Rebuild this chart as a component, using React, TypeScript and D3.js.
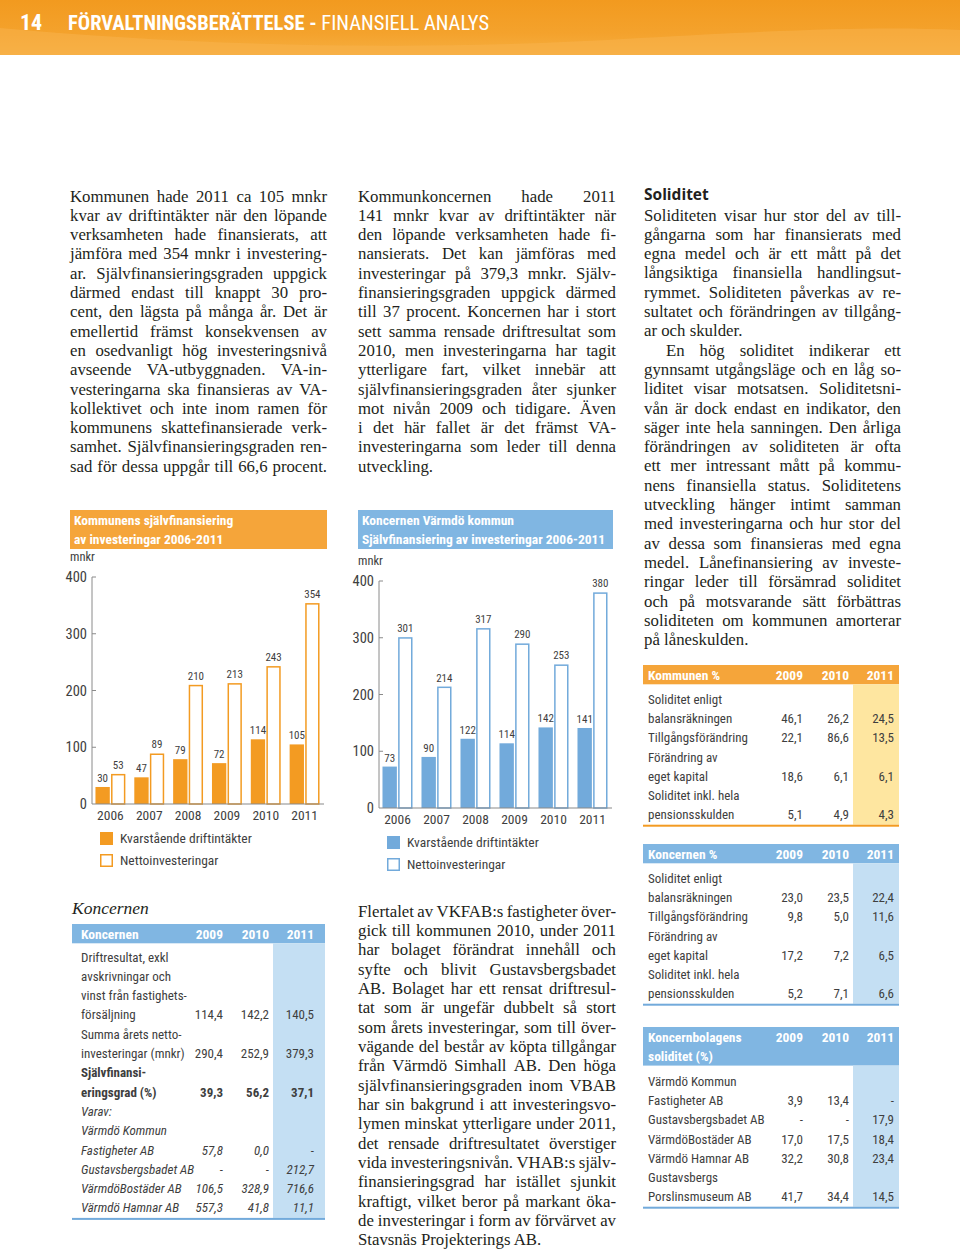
import React from 'react';
import * as d3 from 'd3';

// ---------- data ----------
const years = ['2006', '2007', '2008', '2009', '2010', '2011'];
const kommunDrift = [30, 47, 79, 72, 114, 105];
const kommunNetto = [53, 89, 210, 213, 243, 354];
const koncernDrift = [73, 90, 122, 114, 142, 141];
const koncernNetto = [301, 214, 317, 290, 253, 380];
const yTicks = [0, 100, 200, 300, 400];
const legendLabels = ['Kvarstående driftintäkter', 'Nettoinvesteringar'];
const tableYears = ['2009', '2010', '2011'];

const kommunenRows: [string, string[] | null][] = [
  ['Soliditet enligt', null],
  ['balansräkningen', ['46,1', '26,2', '24,5']],
  ['Tillgångsförändring', ['22,1', '86,6', '13,5']],
  ['Förändring av', null],
  ['eget kapital', ['18,6', '6,1', '6,1']],
  ['Soliditet inkl. hela', null],
  ['pensionsskulden', ['5,1', '4,9', '4,3']],
];
const koncernenPctRows: [string, string[] | null][] = [
  ['Soliditet enligt', null],
  ['balansräkningen', ['23,0', '23,5', '22,4']],
  ['Tillgångsförändring', ['9,8', '5,0', '11,6']],
  ['Förändring av', null],
  ['eget kapital', ['17,2', '7,2', '6,5']],
  ['Soliditet inkl. hela', null],
  ['pensionsskulden', ['5,2', '7,1', '6,6']],
];
const bolagRows: [string, string[] | null][] = [
  ['Värmdö Kommun', null],
  ['Fastigheter AB', ['3,9', '13,4', '-']],
  ['Gustavsbergsbadet AB', ['-', '-', '17,9']],
  ['VärmdöBostäder AB', ['17,0', '17,5', '18,4']],
  ['Värmdö Hamnar AB', ['32,2', '30,8', '23,4']],
  ['Gustavsbergs', null],
  ['Porslinsmuseum AB', ['41,7', '34,4', '14,5']],
];
const koncernRows: [string, string[] | null, string][] = [
  ['Driftresultat, exkl', null, 'n'],
  ['avskrivningar och', null, 'n'],
  ['vinst från fastighets-', null, 'n'],
  ['försäljning', ['114,4', '142,2', '140,5'], 'n'],
  ['Summa årets netto-', null, 'n'],
  ['investeringar (mnkr)', ['290,4', '252,9', '379,3'], 'n'],
  ['Självfinansi-', null, 'b'],
  ['eringsgrad (%)', ['39,3', '56,2', '37,1'], 'b'],
  ['Varav:', null, 'i'],
  ['Värmdö Kommun', null, 'i'],
  ['Fastigheter AB', ['57,8', '0,0', '-'], 'i'],
  ['Gustavsbergsbadet AB', ['-', '-', '212,7'], 'i'],
  ['VärmdöBostäder AB', ['106,5', '328,9', '716,6'], 'i'],
  ['Värmdö Hamnar AB', ['557,3', '41,8', '11,1'], 'i'],
];

const col1Text: [string, boolean][] = [
  ['Kommunen hade 2011 ca 105 mnkr', true],
  ['kvar av driftintäkter när den löpande', true],
  ['verksamheten hade finansierats, att', true],
  ['jämföra med 354 mnkr i investering-', true],
  ['ar. Självfinansieringsgraden uppgick', true],
  ['därmed endast till knappt 30 pro-', true],
  ['cent, den lägsta på många år. Det är', true],
  ['emellertid främst konsekvensen av', true],
  ['en osedvanligt hög investeringsnivå', true],
  ['avseende VA-utbyggnaden. VA-in-', true],
  ['vesteringarna ska finansieras av VA-', true],
  ['kollektivet och inte inom ramen för', true],
  ['kommunens skattefinansierade verk-', true],
  ['samhet. Självfinansieringsgraden ren-', true],
  ['sad för dessa uppgår till 66,6 procent.', true],
];
const col2Text: [string, boolean][] = [
  ['Kommunkoncernen hade 2011', true],
  ['141 mnkr kvar av driftintäkter när', true],
  ['den löpande verksamheten hade fi-', true],
  ['nansierats. Det kan jämföras med', true],
  ['investeringar på 379,3 mnkr. Själv-', true],
  ['finansieringsgraden uppgick därmed', true],
  ['till 37 procent. Koncernen har i stort', true],
  ['sett samma rensade driftresultat som', true],
  ['2010, men investeringarna har tagit', true],
  ['ytterligare fart, vilket innebär att', true],
  ['självfinansieringsgraden åter sjunker', true],
  ['mot nivån 2009 och tidigare. Även', true],
  ['i det här fallet är det främst VA-', true],
  ['investeringarna som leder till denna', true],
  ['utveckling.', false],
];
const col3Text: [string, boolean][] = [
  ['Soliditeten visar hur stor del av till-', true],
  ['gångarna som har finansierats med', true],
  ['egna medel och är ett mått på det', true],
  ['långsiktiga finansiella handlingsut-', true],
  ['rymmet. Soliditeten påverkas av re-', true],
  ['sultatet och förändringen av tillgång-', true],
  ['ar och skulder.', false],
  ['En hög soliditet indikerar ett', true],
  ['gynnsamt utgångsläge och en låg so-', true],
  ['liditet visar motsatsen. Soliditetsni-', true],
  ['vån är dock endast en indikator, den', true],
  ['säger inte hela sanningen. Den årliga', true],
  ['förändringen av soliditeten är ofta', true],
  ['ett mer intressant mått på kommu-', true],
  ['nens finansiella status. Soliditetens', true],
  ['utveckling hänger intimt samman', true],
  ['med investeringarna och hur stor del', true],
  ['av dessa som finansieras med egna', true],
  ['medel. Lånefinansiering av investe-', true],
  ['ringar leder till försämrad soliditet', true],
  ['och på motsvarande sätt förbättras', true],
  ['soliditeten om kommunen amorterar', true],
  ['på låneskulden.', false],
];
const col2bText: [string, boolean][] = [
  ['Flertalet av VKFAB:s fastigheter över-', true],
  ['gick till kommunen 2010, under 2011', true],
  ['har bolaget förändrat innehåll och', true],
  ['syfte och blivit Gustavsbergsbadet', true],
  ['AB. Bolaget har ett rensat driftresul-', true],
  ['tat som är ungefär dubbelt så stort', true],
  ['som årets investeringar, som till över-', true],
  ['vägande del består av köpta tillgångar', true],
  ['från Värmdö Simhall AB. Den höga', true],
  ['självfinansieringsgraden inom VBAB', true],
  ['har sin bakgrund i att investeringsvo-', true],
  ['lymen minskat ytterligare under 2011,', true],
  ['det rensade driftresultatet överstiger', true],
  ['vida investeringsnivån. VHAB:s själv-', true],
  ['finansieringsgrad har istället sjunkit', true],
  ['kraftigt, vilket beror på markant öka-', true],
  ['de investeringar i form av förvärvet av', true],
  ['Stavsnäs Projekterings AB.', false],
];

// ---------- styling ----------
const SERIF = '"Liberation Serif", "Times New Roman", serif';
const COND = '"Liberation Sans Narrow", "Roboto Condensed", "Arial Narrow", sans-serif';
const SANS = '"Open Sans", "Liberation Sans", sans-serif';
const ORANGE = '#F39B22';
const ORANGE_BOX = '#F5A53A';
const YELLOW = '#FEE6A0';
const BLUE = '#72AADB';
const BLUE_BOX = '#80B6E2';
const LIGHTBLUE = '#C4DFF3';
const TXT = '#231F20';
const GRAY = '#3E3E3E';

let _ctx: CanvasRenderingContext2D | null = null;
function measure(text: string, font: string) {
  if (!_ctx) _ctx = document.createElement('canvas').getContext('2d');
  _ctx!.font = font;
  return _ctx!.measureText(text).width;
}

function Para({ lines, x, y0, w, lh, size, indentIdx = [] as number[] }: any) {
  const font = `${size}px ${SERIF}`;
  return (
    <g fontFamily={SERIF} fontSize={size} fill={TXT}>
      {lines.map(([t, just]: [string, boolean], i: number) => {
        const y = y0 + i * lh;
        const ind = indentIdx.includes(i) ? 22 : 0;
        const lx = x + ind;
        const lw = w - ind;
        const words = t.split(' ');
        const nat = measure(t, font);
        if (!just || words.length < 2) {
          return nat > lw ? (
            <text key={i} x={lx} y={y} textLength={lw} lengthAdjust="spacingAndGlyphs">{t}</text>
          ) : (
            <text key={i} x={lx} y={y}>{t}</text>
          );
        }
        const ws = words.map((wd) => measure(wd, font));
        const sum = ws.reduce((a, b) => a + b, 0);
        const gap = (lw - sum) / (words.length - 1);
        if (gap < 2.5) {
          return <text key={i} x={lx} y={y} textLength={lw} lengthAdjust="spacingAndGlyphs">{t}</text>;
        }
        let cx = lx;
        return (
          <text key={i} y={y}>
            {words.map((wd, j) => {
              const px = cx;
              cx += ws[j] + gap;
              return <tspan key={j} x={px}>{wd}</tspan>;
            })}
          </text>
        );
      })}
    </g>
  );
}

function BarChart({ cfg }: any) {
  const x = d3.scaleBand().domain(years).range([cfg.xStart, cfg.xEnd]).paddingInner(0.23).paddingOuter(0.115);
  const xs = d3.scaleBand().domain(['d', 'n']).range([0, x.bandwidth()]).paddingInner(0.08);
  const y = d3.scaleLinear().domain([0, 400]).range([cfg.y0, cfg.y0 - 227]);
  return (
    <g>
      <rect x={cfg.boxX} y={510} width={cfg.boxW} height={39} fill={cfg.boxFill} />
      {cfg.title.map((t: string, i: number) => (
        <text key={i} x={cfg.boxX + 4} y={525 + i * 19} fill="#fff" fontFamily={COND} fontWeight="bold" fontSize={13.5}>{t}</text>
      ))}
      <text x={cfg.boxX} y={cfg.y0 - 243} fontFamily={COND} fontSize={12.5} fill={GRAY}>mnkr</text>
      {yTicks.map((t) => (
        <g key={t}>
          <text x={cfg.axisX - 5} y={y(t)} dy="0.35em" textAnchor="end" fontFamily={COND} fontSize={14.5} fill={GRAY}>{t}</text>
          {t > 0 && <line x1={cfg.axisX} x2={cfg.axisX + 4} y1={y(t)} y2={y(t)} stroke="#8a8a8a" strokeWidth={1} />}
        </g>
      ))}
      <line x1={cfg.axisX} x2={cfg.axisX} y1={y(400)} y2={y(0)} stroke="#8a8a8a" strokeWidth={1} />
      {years.map((yr, i) => {
        const gx = x(yr)!;
        const d = cfg.drift[i];
        const n = cfg.netto[i];
        const bw = xs.bandwidth();
        const dx = gx + xs('d')!;
        const nx = gx + xs('n')!;
        return (
          <g key={yr}>
            <rect x={dx} y={y(d)} width={bw} height={y(0) - y(d)} fill={cfg.barFill} />
            <rect x={nx + 0.75} y={y(n) + 0.75} width={bw - 1.5} height={y(0) - y(n) - 0.75} fill="#fff" stroke={cfg.barFill} strokeWidth={1.5} />
            <text x={dx + bw / 2} y={y(d) - 5} textAnchor="middle" fontFamily={COND} fontSize={11} fill={GRAY}>{d}</text>
            <text x={nx + bw / 2} y={y(n) - 5} textAnchor="middle" fontFamily={COND} fontSize={11} fill={GRAY}>{n}</text>
            <text x={gx + x.bandwidth() / 2} y={y(0) + 16} textAnchor="middle" fontFamily={COND} fontSize={13.5} fill={GRAY}>{yr}</text>
          </g>
        );
      })}
      <line x1={cfg.axisX} x2={cfg.xEnd} y1={y(0)} y2={y(0)} stroke="#8a8a8a" strokeWidth={1.2} />
      {legendLabels.map((l, i) => (
        <g key={l}>
          {i === 0 ? (
            <rect x={cfg.legX} y={cfg.legY + i * 22} width={13} height={13} fill={cfg.barFill} />
          ) : (
            <rect x={cfg.legX + 0.75} y={cfg.legY + i * 22 + 0.75} width={11.5} height={11.5} fill="#fff" stroke={cfg.barFill} strokeWidth={1.5} />
          )}
          <text x={cfg.legX + 20} y={cfg.legY + i * 22 + 11} fontFamily={COND} fontSize={13.5} fill={GRAY}>{l}</text>
        </g>
      ))}
    </g>
  );
}

function Table({ x, right, headY, headLines, headFill, hiFill, lineFill, colRights, hiX, rows, rowY0, lh, pad = 5 }: any) {
  const headH = headLines.length * 19.3;
  const bodyTop = headY + headH;
  const bottom = rowY0 + (rows.length - 1) * lh + 10;
  return (
    <g fontFamily={COND}>
      <rect x={x} y={headY} width={right - x} height={headH} fill={headFill} />
      <rect x={hiX} y={bodyTop} width={right - hiX} height={bottom - bodyTop} fill={hiFill} />
      {headLines.map((t: string, i: number) => (
        <text key={i} x={x + pad} y={headY + 14.5 + i * 19.3} fill="#fff" fontWeight="bold" fontSize={13.5}>{t}</text>
      ))}
      {tableYears.map((yr, j) => (
        <text key={yr} x={colRights[j]} y={headY + 14.5} textAnchor="end" fill="#fff" fontWeight="bold" fontSize={13.5}>{yr}</text>
      ))}
      {rows.map((r: any, i: number) => {
        const yy = rowY0 + i * lh + 4.5;
        const style = r[2] || 'n';
        const fw = style === 'b' ? 'bold' : 'normal';
        const fs = style === 'i' ? 'italic' : 'normal';
        return (
          <g key={i} fontWeight={fw} fontStyle={fs} fill={GRAY} fontSize={13}>
            <text x={x + pad} y={yy}>{r[0]}</text>
            {r[1] && r[1].map((v: string, j: number) => (
              <text key={j} x={colRights[j]} y={yy} textAnchor="end">{v}</text>
            ))}
          </g>
        );
      })}
      <rect x={x} y={bottom} width={right - x} height={2} fill={lineFill} />
    </g>
  );
}

export default function App() {
  const chart1 = {
    xStart: 91, xEnd: 324, axisX: 92, y0: 804, boxX: 70, boxW: 257, boxFill: ORANGE_BOX,
    barFill: ORANGE, drift: kommunDrift, netto: kommunNetto,
    title: ['Kommunens självfinansiering', 'av investeringar 2006-2011'], legX: 100, legY: 832,
  };
  const chart2 = {
    xStart: 378, xEnd: 612, axisX: 379, y0: 808, boxX: 358, boxW: 255, boxFill: BLUE_BOX,
    barFill: BLUE, drift: koncernDrift, netto: koncernNetto,
    title: ['Koncernen Värmdö kommun', 'Självfinansiering av investeringar 2006-2011'], legX: 387, legY: 836,
  };
  return (
    <svg width={960} height={1251} style={{ position: 'absolute', left: 0, top: 0, display: 'block' }}>
      <defs>
        <linearGradient id="hdr" x1="0" y1="0" x2="0" y2="1">
          <stop offset="0" stopColor="#F29A1F" />
          <stop offset="0.6" stopColor="#F4A22C" />
          <stop offset="1" stopColor="#F6AE40" />
        </linearGradient>
      </defs>
      <rect width={960} height={1251} fill="#fff" />
      <rect x={0} y={0} width={960} height={55} fill="url(#hdr)" />
      <path d="M0,28 C200,46 420,52 640,38 C780,30 880,26 960,30 L960,55 L0,55 Z" fill="#F7B24C" opacity={0.55} />
      <text x={20} y={30} fill="#fff" fontFamily={COND} fontWeight="bold" fontSize={22}>14</text>
      <text x={68} y={30} fill="#fff" fontFamily={COND} fontSize={20.5}>
        <tspan fontWeight="bold">FÖRVALTNINGSBERÄTTELSE - </tspan>
        <tspan>FINANSIELL ANALYS</tspan>
      </text>

      <Para lines={col1Text} x={70} y0={201.5} w={257} lh={19.3} size={16.8} />
      <Para lines={col2Text} x={358} y0={201.5} w={258} lh={19.3} size={16.8} />
      <text x={644} y={200} fontFamily={SANS} fontWeight="bold" fontSize={15.5} fill={TXT}>Soliditet</text>
      <Para lines={col3Text} x={644} y0={220.5} w={257} lh={19.3} size={16.8} indentIdx={[7]} />
      <Para lines={col2bText} x={358} y0={916.5} w={258} lh={19.35} size={16.8} />

      <BarChart cfg={chart1} />
      <BarChart cfg={chart2} />

      <text x={72} y={914} fontFamily={SERIF} fontStyle="italic" fontSize={17.5} fill={TXT}>Koncernen</text>
      <Table x={72} right={325} headY={924} headLines={['Koncernen']} headFill={BLUE_BOX} hiFill={LIGHTBLUE}
        lineFill={BLUE} colRights={[223, 269, 314]} hiX={273} rows={koncernRows} rowY0={957} lh={19.3} pad={9} />
      <Table x={643} right={899} headY={665} headLines={['Kommunen %']} headFill={ORANGE_BOX} hiFill={YELLOW}
        lineFill={ORANGE} colRights={[803, 849, 894]} hiX={853} rows={kommunenRows} rowY0={699.5} lh={19.2} />
      <Table x={643} right={899} headY={844} headLines={['Koncernen %']} headFill={BLUE_BOX} hiFill={LIGHTBLUE}
        lineFill={BLUE} colRights={[803, 849, 894]} hiX={853} rows={koncernenPctRows} rowY0={878.5} lh={19.2} />
      <Table x={643} right={899} headY={1027} headLines={['Koncernbolagens', 'soliditet (%)']} headFill={BLUE_BOX}
        hiFill={LIGHTBLUE} lineFill={BLUE} colRights={[803, 849, 894]} hiX={853} rows={bolagRows} rowY0={1081.5} lh={19.2} />
    </svg>
  );
}
